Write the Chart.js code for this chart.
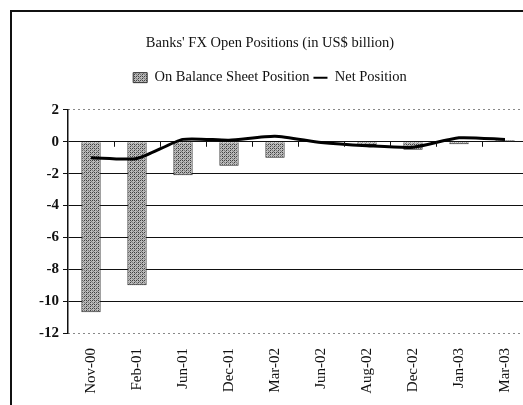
<!DOCTYPE html>
<html lang="en">
<head>
    <meta charset="UTF-8">
    <title>Banks' FX Open Positions</title>
    <style>
        body {
            margin: 0;
            padding: 0;
            background-color: #fff;
            overflow: hidden;
        }

        .frame {
            position: absolute;
            left: 10px;
            top: 10px;
            width: 600px;
            height: 500px;
            border-left: 2px solid #111;
            border-top: 2px solid #111;
        }

        .chart-box {
            position: absolute;
            left: 0;
            top: 0;
            width: 530px;
            height: 405px;
        }
    </style>
</head>
<body>
    <div class="frame"></div>
    <div class="chart-box">
        <canvas id="fxChart"></canvas>
    </div>

    <script src="https://cdn.jsdelivr.net/npm/chart.js"></script>
    <script>
        const months = ['Nov-00', 'Feb-01', 'Jun-01', 'Dec-01', 'Mar-02', 'Jun-02', 'Aug-02', 'Dec-02', 'Jan-03', 'Mar-03'];
        const onBalance = [-10.7, -9.0, -2.1, -1.5, -1.0, -0.05, -0.2, -0.5, -0.15, 0.1];
        const netPosition = [-1.0, -1.05, 0.15, 0.1, 0.35, -0.05, -0.25, -0.35, 0.25, 0.15];
        const yTicks = [2, 0, -2, -4, -6, -8, -10, -12];

        const serif = '"Liberation Serif", "DejaVu Serif", serif';

        // halftone grey fill like the scanned bars
        function makePattern() {
            const c = document.createElement('canvas');
            c.width = 4;
            c.height = 4;
            const g = c.getContext('2d');
            g.fillStyle = '#bababa';
            g.fillRect(0, 0, 4, 4);
            g.fillStyle = '#404040';
            g.fillRect(0, 0, 1, 1);
            g.fillRect(2, 2, 1, 1);
            g.fillRect(2, 0, 1, 1);
            g.fillStyle = '#7a7a7a';
            g.fillRect(0, 2, 1, 1);
            g.fillRect(1, 3, 1, 1);
            g.fillRect(3, 1, 1, 1);
            return g.createPattern(c, 'repeat');
        }
        const barFill = makePattern();

        // small tick marks on the zero line, between categories
        const zeroTicks = {
            id: 'zeroTicks',
            afterDraw(chart) {
                const x = chart.scales.x;
                const y = chart.scales.y;
                const ctx = chart.ctx;
                const y0 = y.getPixelForValue(0);
                ctx.save();
                ctx.strokeStyle = '#111';
                ctx.lineWidth = 1;
                for (let i = 0; i < months.length - 1; i++) {
                    const px = Math.round((x.getPixelForValue(i) + x.getPixelForValue(i + 1)) / 2) + 0.5;
                    ctx.beginPath();
                    ctx.moveTo(px, y0);
                    ctx.lineTo(px, y0 + 5);
                    ctx.stroke();
                }
                ctx.restore();
            }
        };

        // extra room under the legend
        const legendGap = {
            id: 'legendGap',
            beforeInit(chart) {
                const fit = chart.legend.fit;
                chart.legend.fit = function () {
                    fit.call(this);
                    this.height += 15;
                };
            }
        };

        const ctx = document.getElementById('fxChart').getContext('2d');
        new Chart(ctx, {
            data: {
                labels: months,
                datasets: [{
                    type: 'line',
                    label: 'Net Position',
                    data: netPosition,
                    borderColor: '#000',
                    borderWidth: 3,
                    pointRadius: 0,
                    tension: 0.2,
                    order: 0
                }, {
                    type: 'bar',
                    label: 'On Balance Sheet Position',
                    data: onBalance,
                    backgroundColor: barFill,
                    borderColor: '#222',
                    borderWidth: 1,
                    barPercentage: 0.42,
                    categoryPercentage: 1,
                    order: 1
                }]
            },
            options: {
                responsive: true,
                maintainAspectRatio: false,
                animation: false,
                layout: {
                    padding: { left: 10, right: 0, top: 0, bottom: 4 }
                },
                plugins: {
                    title: {
                        display: true,
                        text: "Banks' FX Open Positions (in US$ billion)",
                        color: '#111',
                        font: { family: serif, size: 14.5, weight: 'normal' },
                        padding: { top: 34, bottom: 15 }
                    },
                    legend: {
                        display: true,
                        reverse: true,
                        labels: {
                            color: '#111',
                            font: { family: serif, size: 14.5 },
                            boxWidth: 13,
                            boxHeight: 10,
                            padding: 4,
                            generateLabels(chart) {
                                return chart.data.datasets.map((ds, i) => ({
                                    text: ds.label,
                                    fillStyle: ds.type === 'bar' ? barFill : '#000',
                                    strokeStyle: ds.type === 'bar' ? '#333' : '#000',
                                    lineWidth: ds.type === 'bar' ? 1 : 2,
                                    pointStyle: ds.type === 'bar' ? 'rect' : 'line',
                                    fontColor: '#111',
                                    datasetIndex: i
                                }));
                            },
                            usePointStyle: true,
                            pointStyleWidth: 14
                        }
                    },
                    tooltip: { enabled: false }
                },
                scales: {
                    x: {
                        offset: true,
                        grid: { display: false },
                        border: { display: false },
                        ticks: {
                            color: '#111',
                            font: { family: serif, size: 15 },
                            minRotation: 90,
                            maxRotation: 90,
                            autoSkip: false,
                            padding: 7
                        },
                        afterFit(scale) {
                            scale.height = 68;
                        }
                    },
                    y: {
                        min: -12,
                        max: 2,
                        afterBuildTicks(scale) {
                            scale.ticks = yTicks.map(v => ({ value: v }));
                        },
                        grid: {
                            color: '#111',
                            lineWidth: 1,
                            tickLength: 5,
                            tickColor: '#111'
                        },
                        border: {
                            display: true,
                            color: '#111',
                            width: 1.5,
                            dash: (c) => (c.tick && (c.tick.value === 2 || c.tick.value === -12)) ? [1, 4] : []
                        },
                        ticks: {
                            color: '#111',
                            font: { family: serif, size: 15, weight: 'bold' },
                            padding: 4
                        },
                        afterFit(scale) {
                            scale.width = 58;
                        }
                    }
                }
            },
            plugins: [zeroTicks, legendGap]
        });
    </script>
</body>
</html>
